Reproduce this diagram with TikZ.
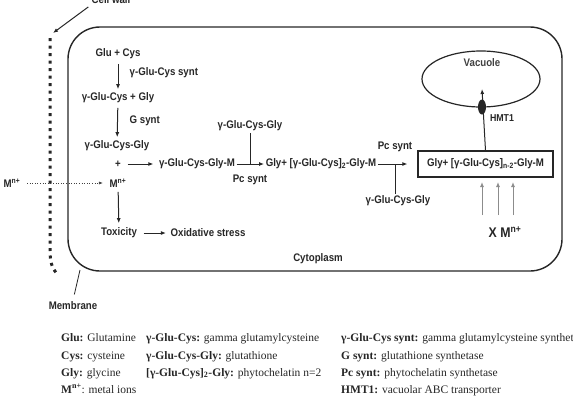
\documentclass[tikz,border=0pt]{standalone}
\usepackage{fontspec}
\setmainfont{Liberation Serif}
\newfontfamily\dfont[FakeStretch=0.88]{Liberation Sans}
\usetikzlibrary{arrows.meta,calc,shapes.geometric}
\begin{document}
\begin{tikzpicture}[x=1pt,y=-1pt,
  lbl/.style={font=\dfont\bfseries\fontsize{11}{13}\selectfont, text=black!85, inner sep=1.5pt},
  arr/.style={-{Latex[length=5pt,width=4pt]}, line width=1pt, draw=black!85},
  garr/.style={-{Latex[length=5pt,width=4pt]}, line width=1pt, draw=black!45},
  dotarr/.style={-{Latex[length=4pt,width=3pt]}, line width=0.6pt, dotted, draw=black!75},
  leg/.style={font=\fontsize{11.5}{13}\selectfont, anchor=base west, inner sep=0pt, text=black!85},
]
\useasboundingbox (0,0) rectangle (573,416);

% cytoplasm
\draw[line width=1.4pt, black!85, rounded corners=32pt] (68,27) rectangle (562,271);
% cell wall
\draw[line width=3pt, dash pattern=on 3pt off 4.5pt, black!85] (50,38) -- (50,250) .. controls (50,262) and (52,268) .. (57,274);
\node[lbl] (cw) at (111,0) {Cell wall};
\coordinate (wtip) at (53,33);
\draw[arr, shorten <=2pt] (cw.south west) -- (wtip);
% membrane
\node[lbl] (mem) at (73,306) {Membrane};
\coordinate (mtip) at (80,270);
\draw[line width=0.8pt, black!85, shorten <=6pt] (mem.north) -- (mtip);

% pathway
\node[lbl] (glucys) at (118,54) {Glu + Cys};
\node[lbl, anchor=west] (gcsynt) at (128,73) {γ-Glu-Cys synt};
\node[lbl] (gcg) at (118,98) {γ-Glu-Cys + Gly};
\node[lbl, anchor=west] (gsynt) at (128,121) {G synt};
\node[lbl] (gsh) at (117,146) {γ-Glu-Cys-Gly};
\node[lbl] (plus) at (118,164) {+};
\node[lbl] (gsm) at (197,164) {γ-Glu-Cys-Gly-M};
\node[lbl] (min) at (118,183) {M\textsuperscript{n+}};
\node[lbl] (mout) at (12,183) {M\textsuperscript{n+}};
\node[lbl] (tox) at (119,233) {Toxicity};
\node[lbl] (ox) at (208,233) {Oxidative stress};
\node[lbl] (gsh2) at (250,126) {γ-Glu-Cys-Gly};
\node[lbl] (pcs1) at (250,180) {Pc synt};
\node[lbl] (pc2) at (321,164) {Gly+ [γ-Glu-Cys]\textsubscript{2}-Gly-M};
\node[lbl] (pcs2) at (395,147) {Pc synt};
\node[lbl] (gsh3) at (398,201) {γ-Glu-Cys-Gly};
\node[lbl, draw=black!85, line width=1.2pt, minimum width=135pt, minimum height=26pt] (box) at (485.5,164) {Gly+ [γ-Glu-Cys]\textsubscript{n-2}-Gly-M};
\node[lbl] (cyto) at (318,259) {Cytoplasm};
\node[lbl, font=\dfont\bfseries\fontsize{14}{16}\selectfont] (xm) at (505,232) {X M\textsuperscript{n+}};

% vacuole
\node[draw=black!85, line width=1.2pt, ellipse, minimum width=118pt, minimum height=56pt, inner sep=0pt] (vac) at (481,79) {};
\node[lbl, text=black!75] (vaclbl) at (482,63) {Vacuole};
\coordinate (vtip) at (482,89);
\draw[arr] (box.north) -- (vtip);
\node[fill=black!85, ellipse, minimum width=8pt, minimum height=15pt, inner sep=0pt] (hmt) at (482,107) {};
\node[lbl, font=\dfont\bfseries\fontsize{10}{12}\selectfont] (hmtlbl) at (502,118) {HMT1};

% arrows
\draw[arr, shorten <=3pt, shorten >=2pt] (glucys) -- (gcg);
\draw[arr, shorten <=3pt, shorten >=2pt] (gcg) -- (gsh);
\draw[arr, shorten <=5pt, shorten >=4pt] (plus) -- (gsm);
\draw[dotarr, shorten <=5pt, shorten >=5pt] (mout) -- (min);
\draw[arr, shorten <=3pt, shorten >=3pt] (min) -- (tox);
\draw[arr, shorten <=5pt, shorten >=3pt] (tox) -- (ox);
\coordinate (j1) at ($(gsm.east)!0.5!(pc2.west)$);
\draw[arr] (gsm.east) -- (pc2.west);
\draw[line width=1pt, black!85] (gsh2.south -| j1) -- (j1);
\coordinate (j2) at ($(pc2.east)!0.45!(box.west)$);
\draw[arr, shorten >=10pt] (pc2.east) -- (box.west);
\draw[line width=1pt, black!85] (gsh3.north -| j2) -- (j2);

% metal ions entering
\coordinate (a1s) at (482,215); \coordinate (a1e) at (482,182);
\coordinate (a2s) at (498,215); \coordinate (a2e) at (498,182);
\coordinate (a3s) at (513,215); \coordinate (a3e) at (513,182);
\draw[garr] (a1s) -- (a1e);
\draw[garr] (a2s) -- (a2e);
\draw[garr] (a3s) -- (a3e);

% legend
\node[leg] (l11) at (61,341) {\textbf{Glu:} Glutamine};
\node[leg] (l21) at (61,359) {\textbf{Cys:} cysteine};
\node[leg] (l31) at (61,376) {\textbf{Gly:} glycine};
\node[leg] (l41) at (61,393) {\textbf{M\textsuperscript{n+}}: metal ions};
\node[leg] (l12) at (146,341) {\textbf{γ-Glu-Cys:} gamma glutamylcysteine};
\node[leg] (l22) at (146,359) {\textbf{γ-Glu-Cys-Gly:} glutathione};
\node[leg] (l32) at (146,376) {\textbf{[γ-Glu-Cys]\textsubscript{2}-Gly:} phytochelatin n=2};
\node[leg] (l13) at (341,341) {\textbf{γ-Glu-Cys synt:} gamma glutamylcysteine synthetase};
\node[leg] (l23) at (341,359) {\textbf{G synt:} glutathione synthetase};
\node[leg] (l33) at (341,376) {\textbf{Pc synt:} phytochelatin synthetase};
\node[leg] (l43) at (341,393) {\textbf{HMT1:} vacuolar ABC transporter};
\end{tikzpicture}
\end{document}
